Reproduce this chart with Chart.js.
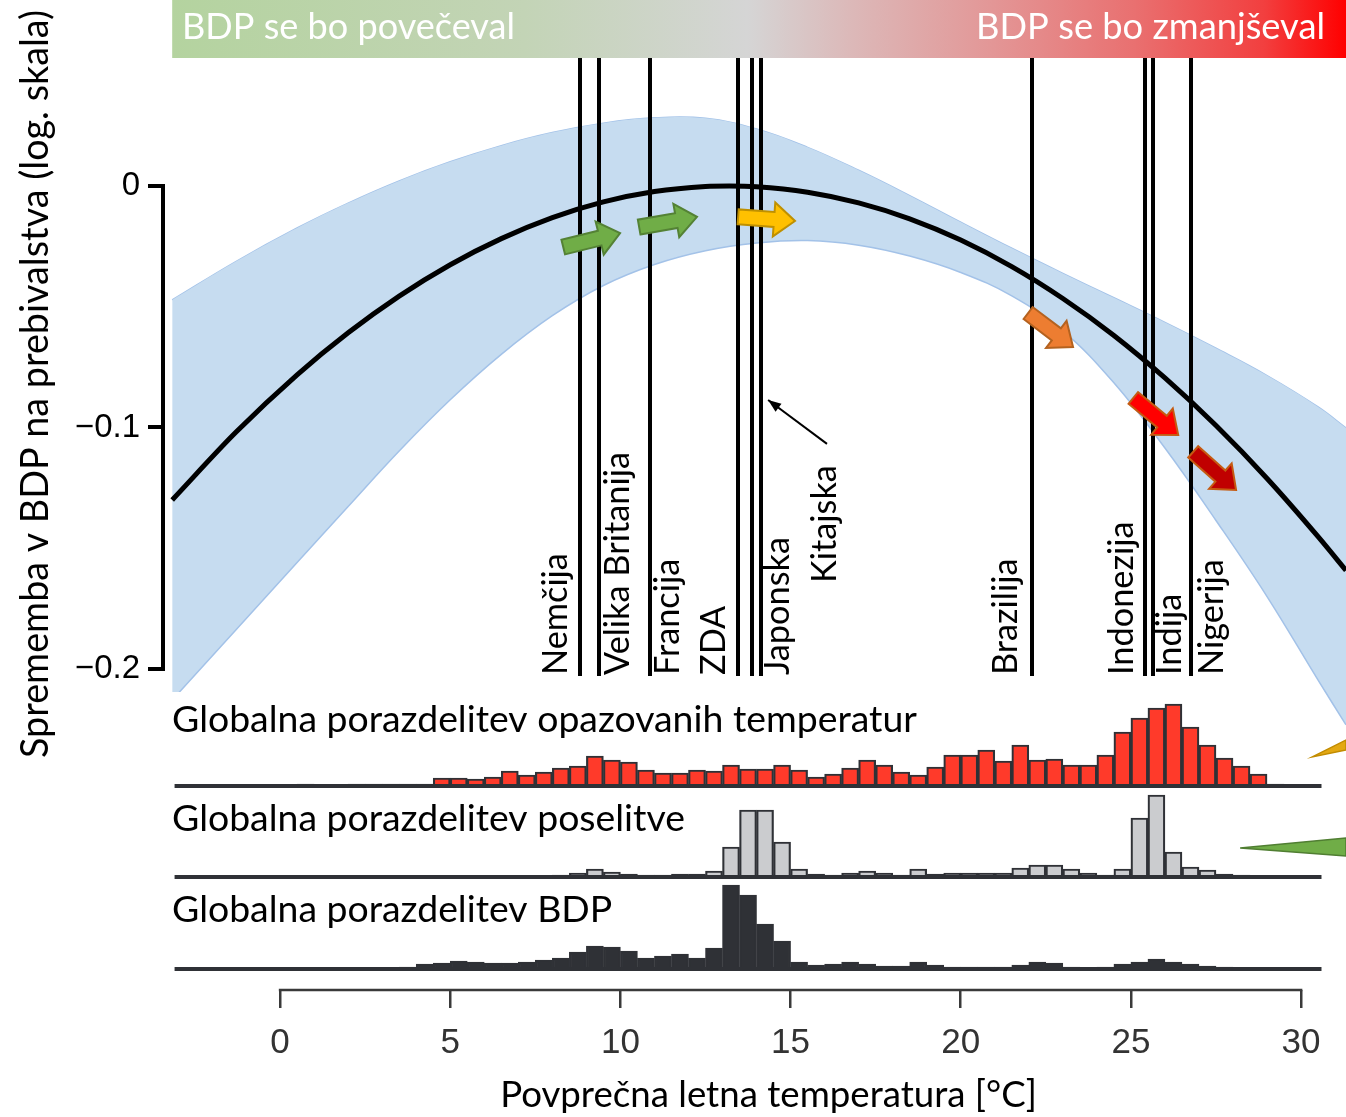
<!DOCTYPE html>
<html><head><meta charset="utf-8">
<script src="https://cdn.jsdelivr.net/npm/chart.js@4/dist/chart.umd.min.js"></script>
<style>html,body{margin:0;padding:0;background:#fff;overflow:hidden}#wrap{position:relative;width:1346px;height:1117px}canvas{display:block}</style>
</head><body><div id="wrap"><canvas id="c" width="1346" height="1117"></canvas></div>
<script>
// ---------------- DATA ----------------
const binStarts = [-3,-2.5,-2,-1.5,-1,-0.5,0,0.5,1,1.5,2,2.5,3,3.5,4,4.5,5,5.5,6,6.5,7,7.5,8,8.5,9,9.5,10,10.5,11,11.5,12,12.5,13,13.5,14,14.5,15,15.5,16,16.5,17,17.5,18,18.5,19,19.5,20,20.5,21,21.5,22,22.5,23,23.5,24,24.5,25,25.5,26,26.5,27,27.5,28,28.5,29,29.5,30];
const binWidth = 0.5;
const histTemperature = [1,1,1,1,1.5,1.5,1,2,1.5,1.5,2,2,2,2,2,8,8,7,9,15,11,14,18,20,30,26,24,16,13,13,16,15,21,17,17,21,16,9,12,18,26,21,14,11,19,31,31,36,25,41,26,27,21,21,31,54,68,78,82,59,41,28,20,12,2,1,1];
const histPopulation = [0.5,0.5,0.5,0.5,0.5,0.5,0.5,0.5,0.5,0.5,0.5,0.5,1,1,1,1.5,1.5,1,1,1,1,1.5,2,4,8,5,3,2,2,3,3,6,30,67,67,35,8,3,2,4,6,4,2,8,3,4,4,4,4,9,12,12,8,4,2,8,59,82,25,10,7,3,2,1,0.5,0.5,0.5];
const histGDP = [1,1,1,1,1,1,1,1,1,1,1,1,1.5,2,5,6,8,7,6,6,7,9,11,17,23,22,18,11,13,15,11,21,84,74,45,28,7,4,5,7,5,3,3,7,4,2,2,2,2,4,7,6,2,1,2,5,7,10,7,5,3,2,1,1,1,0.5,0.5];

const curveT = [-3.17,-1.3,0.5,2,3.5,5,6.5,8,9.5,11,12.5,13.2,14,15.5,17,18.5,20,21.5,23,24.5,26,27.5,29,30.5,31.32];
const curveV = [-0.130,-0.102,-0.0782,-0.0608,-0.0456,-0.0326,-0.0218,-0.0131,-0.0066,-0.0023,-0.0002,0,-0.0003,-0.0026,-0.0070,-0.0136,-0.0224,-0.0334,-0.0466,-0.0619,-0.0795,-0.0992,-0.1211,-0.1452,-0.1592];

const bandT = [-3.17,-1.3,0.5,2,3.5,5,6.5,8,9.5,11,12.5,14,15.5,17,18.5,20,21.5,23,24.5,26,27.5,29,30.5,31.32];
const bandUpper = [-0.0472,-0.0313,-0.0174,-0.0071,0.0021,0.0100,0.0167,0.0221,0.0260,0.0282,0.0280,0.0236,0.0160,0.0065,-0.0040,-0.0150,-0.0258,-0.0362,-0.0463,-0.0565,-0.0672,-0.0785,-0.0915,-0.1002];
const bandLower = [-0.2128,-0.1838,-0.1559,-0.1327,-0.1097,-0.0885,-0.0697,-0.0537,-0.0412,-0.0325,-0.0268,-0.0236,-0.0226,-0.0245,-0.0290,-0.0358,-0.0455,-0.0600,-0.0815,-0.1085,-0.1385,-0.1700,-0.2046,-0.2231];

const countries = ['Nemčija','Velika Britanija','Francija','ZDA','Japonska','Kitajska','Brazilija','Indonezija','Indija','Nigerija'];
const countryTemps = [8.82,9.37,10.87,13.46,13.87,14.13,22.10,25.42,25.65,26.77];

// projected shifts (arrows): start / end as [temperature, value]
const shiftFrom = [[8.32,-0.0253],[10.55,-0.0170],[13.46,-0.0128],[21.98,-0.0526],[25.07,-0.0878],[26.83,-0.1101]];
const shiftTo   = [[9.99,-0.0195],[12.25,-0.0128],[15.13,-0.0145],[23.30,-0.0667],[26.39,-0.1031],[28.09,-0.1259]];
const chinaPointer = [[16.07,-0.1068],[14.34,-0.0886]];
// cut-off wedge shapes at the right edge: [temperature, value]
const wedgeYellow = [[30.33,-0.2364],[31.32,-0.2294],[31.32,-0.2335]];
const wedgeGreen  = [[28.21,-0.2741],[31.32,-0.2700],[31.32,-0.2774]];

const xTicks = [0,5,10,15,20,25,30];
const yTicks = [0,-0.1,-0.2];
const yTickLabels = ['0','\u22120.1','\u22120.2'];

const headerLeft = 'BDP se bo povečeval';
const headerRight = 'BDP se bo zmanjševal';
const histTitles = ['Globalna porazdelitev opazovanih temperatur','Globalna porazdelitev poselitve','Globalna porazdelitev BDP'];
const xTitle = 'Povprečna letna temperatura [°C]';
const yTitle = 'Sprememba v BDP na prebivalstva (log. skala)';

// ---------------- STYLE ----------------
const shiftFill = ['#70ad47','#70ad47','#ffc000','#ed7d31','#ff0000','#c00000'];
const shiftStroke = ['#548235','#548235','#bf9000','#b4621f','#c55a11','#c55a11'];
const HIST_EDGE = '#2f3136';

const pts = (xs, ys) => xs.map((x,i)=>({x, y: ys[i]}));
const binPts = vals => binStarts.map((b,i)=>({x: b + binWidth/2, y: vals[i]}));
const baseLine = [{x:-3.1,y:0},{x:30.6,y:0}];

function fitFont(ctx, text, family, target){
  ctx.font = '100px "' + family + '"';
  const w = ctx.measureText(text).width;
  return 100 * target / w;
}
function setFont(ctx, size, family){ ctx.font = size.toFixed(2) + 'px "' + family + '"'; }

function fatArrow(ctx, x0,y0,x1,y1, fill, stroke){
  const dx=x1-x0, dy=y1-y0, L=Math.hypot(dx,dy), ux=dx/L, uy=dy/L, nx=-uy, ny=ux;
  const sw=7.5, hw=17, hl=21;
  const bx=x1-ux*hl, by=y1-uy*hl;
  ctx.beginPath();
  ctx.moveTo(x0+nx*sw, y0+ny*sw);
  ctx.lineTo(bx+nx*sw, by+ny*sw);
  ctx.lineTo(bx+nx*hw, by+ny*hw);
  ctx.lineTo(x1,y1);
  ctx.lineTo(bx-nx*hw, by-ny*hw);
  ctx.lineTo(bx-nx*sw, by-ny*sw);
  ctx.lineTo(x0-nx*sw, y0-ny*sw);
  ctx.closePath();
  ctx.fillStyle=fill; ctx.fill();
  ctx.lineWidth=2; ctx.strokeStyle=stroke; ctx.lineJoin='miter'; ctx.stroke();
}

const decor = {
  id: 'decor',
  afterDatasetDraw(chart, args){
    if (args.index !== 1) return;           // after the confidence band
    const {ctx, chartArea, scales:{x}} = chart;
    ctx.save(); ctx.fillStyle = '#fff';
    const xr = x.getPixelForValue(30.55);
    ctx.fillRect(chartArea.left, 692, xr - chartArea.left, chartArea.bottom - 692);
    ctx.restore();
  },
  afterDatasetsDraw(chart){
    const {ctx, chartArea, scales:{x, y}} = chart;
    const X = v => x.getPixelForValue(v), Y = v => y.getPixelForValue(v);
    ctx.save();

    // header gradient
    const hx0 = X(-3.17), hx1 = chartArea.right;
    const g = ctx.createLinearGradient(hx0,0,hx1,0);
    g.addColorStop(0,'#b4d39f'); g.addColorStop(0.3,'#c3d4b6'); g.addColorStop(0.49,'#d5d5d5');
    g.addColorStop(0.58,'#dcb8b8'); g.addColorStop(0.7,'#e39696'); g.addColorStop(0.82,'#e97070');
    g.addColorStop(0.93,'#f23f3f'); g.addColorStop(1,'#ff0000');
    ctx.fillStyle = g; ctx.fillRect(hx0, 0, hx1-hx0, 58);
    ctx.fillStyle = '#fff'; ctx.textBaseline = 'alphabetic';
    let fs = fitFont(ctx, headerLeft, 'Lato', 333);
    setFont(ctx, fs, 'Lato'); ctx.textAlign='left'; ctx.fillText(headerLeft, 182, 39);
    fs = fitFont(ctx, headerRight, 'Lato', 349);
    setFont(ctx, fs, 'Lato'); ctx.textAlign='right'; ctx.fillText(headerRight, 1325, 39);

    // country lines
    ctx.strokeStyle = '#000'; ctx.lineWidth = 4; ctx.lineCap='butt';
    countryTemps.forEach(t => { const px = Math.round(X(t)); ctx.beginPath(); ctx.moveTo(px,58); ctx.lineTo(px,676); ctx.stroke(); });

    // country labels
    const labDx = [-24, 19, 18, -24, 26, 64, -26, -23, 17, 21];
    const labBottom = [675,675,675,675,675,583,675,675,675,675];
    const lfs = fitFont(ctx, countries[1], 'Lato', 223);
    setFont(ctx, lfs, 'Lato'); ctx.fillStyle = '#000'; ctx.textAlign='left'; ctx.textBaseline='middle';
    countries.forEach((c,i) => {
      ctx.save(); ctx.translate(X(countryTemps[i]) + labDx[i], labBottom[i]); ctx.rotate(-Math.PI/2);
      ctx.fillText(c, 0, 0); ctx.restore();
    });

    // China pointer
    const [p0, p1] = chinaPointer;
    const ax0 = X(p0[0]), ay0 = Y(p0[1]), ax1 = X(p1[0]), ay1 = Y(p1[1]);
    ctx.strokeStyle='#000'; ctx.lineWidth=2;
    ctx.beginPath(); ctx.moveTo(ax0,ay0); ctx.lineTo(ax1,ay1); ctx.stroke();
    { const dx=ax1-ax0, dy=ay1-ay0, L=Math.hypot(dx,dy), ux=dx/L, uy=dy/L;
      ctx.beginPath(); ctx.moveTo(ax1,ay1);
      ctx.lineTo(ax1-ux*13-uy*5, ay1-uy*13+ux*5); ctx.lineTo(ax1-ux*13+uy*5, ay1-uy*13-ux*5);
      ctx.closePath(); ctx.fillStyle='#000'; ctx.fill(); }

    // shift arrows
    shiftFrom.forEach((f,i) => {
      const t = shiftTo[i];
      fatArrow(ctx, X(f[0]), Y(f[1]), X(t[0]), Y(t[1]), shiftFill[i], shiftStroke[i]);
    });

    // y axis segment
    ctx.strokeStyle='#000'; ctx.lineWidth=4; ctx.lineCap='square';
    ctx.beginPath(); ctx.moveTo(chartArea.left, Y(0)); ctx.lineTo(chartArea.left, Y(-0.2)); ctx.stroke();
    // x axis segment
    ctx.strokeStyle='#3a3a3a'; ctx.lineWidth=2.5; ctx.lineCap='square';
    ctx.beginPath(); ctx.moveTo(X(0), chartArea.bottom); ctx.lineTo(X(30), chartArea.bottom); ctx.stroke();

    // histogram titles
    ctx.fillStyle='#000'; ctx.textAlign='left'; ctx.textBaseline='alphabetic';
    const htf = fitFont(ctx, histTitles[0], 'Lato', 745);
    setFont(ctx, htf, 'Lato');
    ctx.fillText(histTitles[0], 172, 732);
    ctx.fillText(histTitles[1], 172, 831);
    ctx.fillText(histTitles[2], 172, 922);

    // wedges
    [[wedgeYellow,'#e3a812','#c28c00'],[wedgeGreen,'#70ad47','#507e32']].forEach(([w,f,s]) => {
      ctx.beginPath(); w.forEach((p,i)=>{ const px=X(p[0]), py=Y(p[1]); i?ctx.lineTo(px,py):ctx.moveTo(px,py); });
      ctx.closePath(); ctx.fillStyle=f; ctx.fill(); ctx.lineWidth=1.5; ctx.strokeStyle=s; ctx.stroke();
    });

    // axis titles
    const xtf = fitFont(ctx, xTitle, 'Lato', 537);
    setFont(ctx, xtf, 'Lato'); ctx.textAlign='center'; ctx.textBaseline='alphabetic'; ctx.fillStyle='#000';
    ctx.fillText(xTitle, 768.5, 1107);
    const ytf = fitFont(ctx, yTitle, 'Lato', 748);
    setFont(ctx, ytf, 'Lato');
    ctx.save(); ctx.translate(48, 384); ctx.rotate(-Math.PI/2); ctx.textAlign='center'; ctx.fillText(yTitle, 0, 0); ctx.restore();

    ctx.restore();
  }
};

const barDs = (vals, axis, fill) => ({
  type:'bar', data: binPts(vals), yAxisID: axis, grouped:false,
  backgroundColor: fill, borderColor: HIST_EDGE, borderWidth: 2.2, borderSkipped:'start',
  barPercentage:1, categoryPercentage:1, order:3
});
const baseDs = axis => ({
  type:'line', data: baseLine, yAxisID: axis, borderColor: HIST_EDGE, borderWidth: 4,
  pointRadius:0, fill:false, order:2
});

new Chart(document.getElementById('c'), {
  type: 'line',
  data: { datasets: [
    { data: pts(bandT, bandUpper), yAxisID:'y', borderColor:'#a3c2e8', borderWidth:1.5, pointRadius:0, fill:false, tension:0.4, order:11 },
    { data: pts(bandT, bandLower), yAxisID:'y', borderColor:'#a3c2e8', borderWidth:1.5, pointRadius:0, fill:'-1', backgroundColor:'#c6dcf0', tension:0.4, order:10 },
    { data: pts(curveT, curveV), yAxisID:'y', borderColor:'#000', borderWidth:5, pointRadius:0, fill:false, cubicInterpolationMode:'monotone', order:5 },
    barDs(histTemperature, 'yR', '#ff3a2a'),
    barDs(histPopulation, 'yG', '#cbcccf'),
    barDs(histGDP, 'yB', '#2f3136'),
    baseDs('yR'), baseDs('yG'), baseDs('yB')
  ]},
  options: {
    responsive:false, animation:false, devicePixelRatio:1,
    layout:{padding:0},
    plugins:{legend:{display:false}, tooltip:{enabled:false}},
    scales:{
      x:{ type:'linear', min:-3.44, max:31.32, position:'bottom', offset:false,
          afterBuildTicks: s => { s.ticks = xTicks.map(v=>({value:v})); },
          afterFit: s => { s.height = 127; s.paddingLeft = 0; s.paddingRight = 0; },
          border:{display:false},
          grid:{offset:false, drawOnChartArea:false, drawTicks:true, tickLength:18, color:'#3a3a3a', lineWidth:2.5},
          ticks:{color:'#333', font:{family:'Liberation Sans', size:35}, padding:14, maxRotation:0, autoSkip:false}
      },
      y:{ type:'linear', min:-0.3329, max:0.0770, position:'left',
          afterBuildTicks: s => { s.ticks = yTicks.map(v=>({value:v})); },
          afterFit: s => { s.width = 163; s.paddingTop = 0; s.paddingBottom = 0; },
          border:{display:false},
          grid:{drawOnChartArea:false, drawTicks:true, tickLength:15, color:'#000', lineWidth:4},
          ticks:{color:'#000', font:{family:'Liberation Sans', size:33}, padding:8, autoSkip:false,
                 callback:(v,i)=>yTickLabels[i]}
      },
      yR:{ type:'linear', display:false, min:-204, max:786 },
      yG:{ type:'linear', display:false, min:-113, max:877 },
      yB:{ type:'linear', display:false, min:-21, max:969 }
    }
  },
  plugins:[decor]
});
</script></body></html>
